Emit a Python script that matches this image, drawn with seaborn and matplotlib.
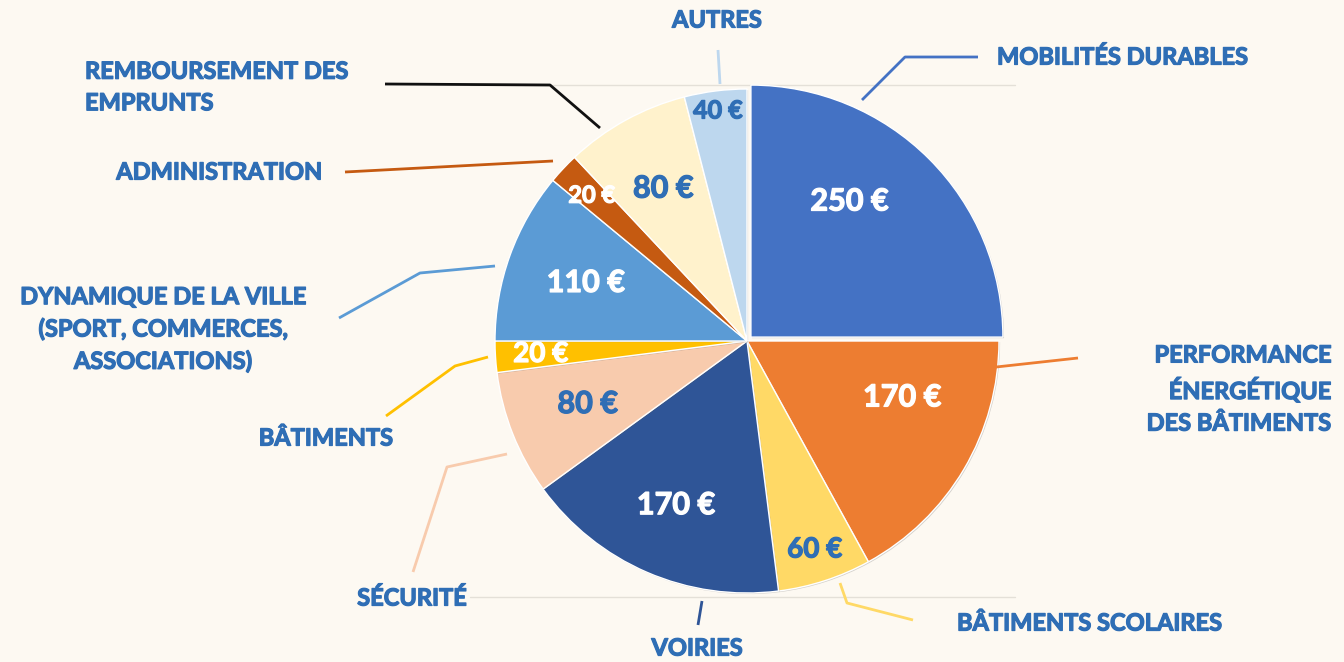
import numpy as np
import matplotlib
matplotlib.use("Agg")
import matplotlib.pyplot as plt
import matplotlib.patheffects as pe
import seaborn as sns

# budget data, clockwise from the top
categories = [
    "MOBILITÉS DURABLES",
    "PERFORMANCE\nÉNERGÉTIQUE\nDES BÂTIMENTS",
    "BÂTIMENTS SCOLAIRES",
    "VOIRIES",
    "SÉCURITÉ",
    "BÂTIMENTS",
    "DYNAMIQUE DE LA VILLE\n(SPORT, COMMERCES,\nASSOCIATIONS)",
    "ADMINISTRATION",
    "REMBOURSEMENT DES\nEMPRUNTS",
    "AUTRES",
]
values = [250, 170, 60, 170, 80, 20, 110, 20, 80, 40]
value_labels = [f"{v} €" for v in values]

colors = ["#4472C4", "#ED7D31", "#FFD966", "#2F5597", "#F8CBAD",
          "#FFC000", "#5B9BD5", "#C55A11", "#FFF2CC", "#BDD7EE"]
line_colors = ["#4472C4", "#ED7D31", "#FFD966", "#2F5597", "#F8CBAD",
               "#FFC000", "#5B9BD5", "#C55A11", "#111111", "#BDD7EE"]
value_colors = ["white", "white", "#2F6EB5", "white", "#2F6EB5",
                "white", "white", "white", "#2F6EB5", "#2F6EB5"]

BG = "#FDF9F2"
TXT = "#2F6EB5"
W, H = 1344, 662

# layout (pixel coords, y from top)
R = 252
explode = [0.022 * R, 0, 0, 0, 0, 0, 0, 0, 0, 0]
label_r = [0.665, 0.655, 0.87, 0.71, 0.68, 0.82, 0.68, 0.845, 0.69, 0.92]
label_dang = [9, 10.6, 0, 0, 0, 0, 0, 0, 0, 0]
value_sizes = [22, 22, 20, 22, 22, 20, 22, 17, 22, 18]
outer_pos = [(997, 57, "left"), (1331, 389, "right"), (957, 623, "left"),
             (697, 648, "center"), (412, 598, "center"), (393, 438, "right"),
             (163, 329, "center"), (322, 172, "right"), (85, 87, "left"),
             (717, 20, "center")]
leaders = [
    [(862, 100), (905, 57), (978, 57)],
    [(978, 369), (1078, 358)],
    [(840, 583), (847, 603), (913, 620)],
    [(702, 601), (698, 625)],
    [(507, 454), (447, 467), (413, 572)],
    [(488, 357), (455, 366), (386, 416)],
    [(495, 266), (420, 273), (339, 318)],
    [(553, 161), (345, 172)],
    [(600, 128), (550, 85), (385, 84)],
    [(720, 84), (718, 50)],
]

sns.set_theme(style="white")
plt.rcParams["font.family"] = ["Lato", "DejaVu Sans"]

fig = plt.figure(figsize=(W / 100, H / 100), dpi=100, facecolor=BG)
ax = fig.add_axes([0, 0, 1, 1])
ax.set_facecolor(BG)


def fy(py):
    return H - py


def heavy(color):
    # thicken Lato Bold a little towards the heavy geometric face
    return [pe.withStroke(linewidth=0.9, foreground=color)]


# faint plot-area lines
for py in (85, 597):
    ax.plot([470, 1015], [fy(py), fy(py)], color="#E4E0D8", lw=1, zorder=0)

wedges, _ = ax.pie(values, colors=colors, startangle=90, counterclock=False,
                   explode=explode, center=(747, fy(341)), radius=R,
                   wedgeprops=dict(edgecolor="white", linewidth=1))
for w in wedges:
    w.set_path_effects([pe.SimplePatchShadow(offset=(0.8, -0.8), alpha=0.25,
                                             shadow_rgbFace="#555555"),
                        pe.Normal()])

for i, w in enumerate(wedges):
    mid = np.deg2rad((w.theta1 + w.theta2) / 2 + label_dang[i])
    cx, cy = w.center
    x = cx + label_r[i] * R * np.cos(mid)
    y = cy + label_r[i] * R * np.sin(mid)
    ax.text(x, y, value_labels[i], ha="center", va="center",
            color=value_colors[i], fontsize=value_sizes[i], fontweight="bold",
            path_effects=heavy(value_colors[i]))

for i, pts in enumerate(leaders):
    xs = [p[0] for p in pts]
    ys = [fy(p[1]) for p in pts]
    ax.plot(xs, ys, color=line_colors[i], lw=2, solid_capstyle="butt", zorder=1)
    tx, ty, ha = outer_pos[i]
    ax.text(tx, fy(ty), categories[i], ha=ha, va="center", color=TXT,
            fontsize=17, fontweight="bold", linespacing=1.45,
            multialignment=ha, path_effects=heavy(TXT))

ax.set_xlim(0, W)
ax.set_ylim(0, H)
ax.set_aspect("equal")
ax.axis("off")

fig.savefig("out.png", dpi=100, facecolor=BG)
